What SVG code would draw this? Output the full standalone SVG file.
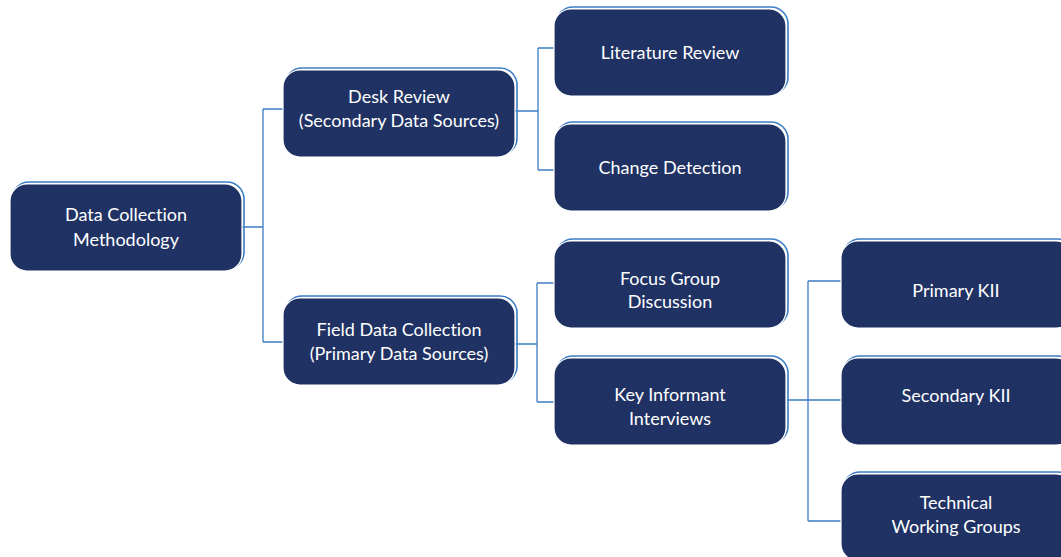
<svg xmlns="http://www.w3.org/2000/svg" width="1061" height="557" viewBox="0 0 1061 557">
  <style>
    .edge { fill: none; stroke: #3C7CC4; stroke-width: 1.3; }
    .rim { fill: none; stroke: #3C7CC4; stroke-width: 1.6; }
    .box { fill: #1F3263; stroke: #FFFFFF; stroke-width: 1.2; }
    .lbl { font-family: Lato, "Liberation Sans", sans-serif; font-size: 18px; fill: #FFFFFF; text-anchor: middle; font-variant-ligatures: none; }
  </style>
  <defs>
    <g id="card">
      <rect class="rim" x="2" y="-2" width="232" height="87" rx="17"/>
      <rect class="box" x="0" y="0" width="232" height="87" rx="17"/>
    </g>
  </defs>

  <g id="connectors">
    <!-- root to level 1 -->
    <path class="edge" d="M241 227 H263 M263 109 V342 M263 109 H283 M263 342 H283"/>
    <!-- desk review to its children -->
    <path class="edge" d="M515 111 H538 M538 48 V170 M538 48 H554 M538 170 H554"/>
    <!-- field data collection to its children -->
    <path class="edge" d="M515 344 H537 M537 283 V402 M537 283 H554 M537 402 H554"/>
    <!-- key informant interviews to its children -->
    <path class="edge" d="M787 400 H808 M808 281 V521 M808 281 H841 M808 400 H841 M808 521 H841"/>
  </g>

  <g id="node-methodology">
    <use href="#card" x="10" y="184"/>
    <text class="lbl" x="126" y="221">Data Collection</text>
    <text class="lbl" x="126" y="246">Methodology</text>
  </g>

  <g id="node-desk-review">
    <use href="#card" x="283" y="70"/>
    <text class="lbl" x="399" y="103">Desk Review</text>
    <text class="lbl" x="399" y="127">(Secondary Data Sources)</text>
  </g>

  <g id="node-field-data">
    <use href="#card" x="283" y="298"/>
    <text class="lbl" x="399" y="336">Field Data Collection</text>
    <text class="lbl" x="399" y="360">(Primary Data Sources)</text>
  </g>

  <g id="node-literature">
    <use href="#card" x="554" y="9"/>
    <text class="lbl" x="670" y="59">Literature Review</text>
  </g>

  <g id="node-change">
    <use href="#card" x="554" y="124"/>
    <text class="lbl" x="670" y="174">Change Detection</text>
  </g>

  <g id="node-fgd">
    <use href="#card" x="554" y="241"/>
    <text class="lbl" x="670" y="285">Focus Group</text>
    <text class="lbl" x="670" y="308">Discussion</text>
  </g>

  <g id="node-kii">
    <use href="#card" x="554" y="358"/>
    <text class="lbl" x="670" y="401">Key Informant</text>
    <text class="lbl" x="670" y="425">Interviews</text>
  </g>

  <g id="node-primary-kii">
    <use href="#card" x="841" y="241"/>
    <text class="lbl" x="956" y="297">Primary KII</text>
  </g>

  <g id="node-secondary-kii">
    <use href="#card" x="841" y="358"/>
    <text class="lbl" x="956" y="402">Secondary KII</text>
  </g>

  <g id="node-twg">
    <use href="#card" x="841" y="474"/>
    <text class="lbl" x="956" y="509">Technical</text>
    <text class="lbl" x="956" y="533">Working Groups</text>
  </g>
</svg>
